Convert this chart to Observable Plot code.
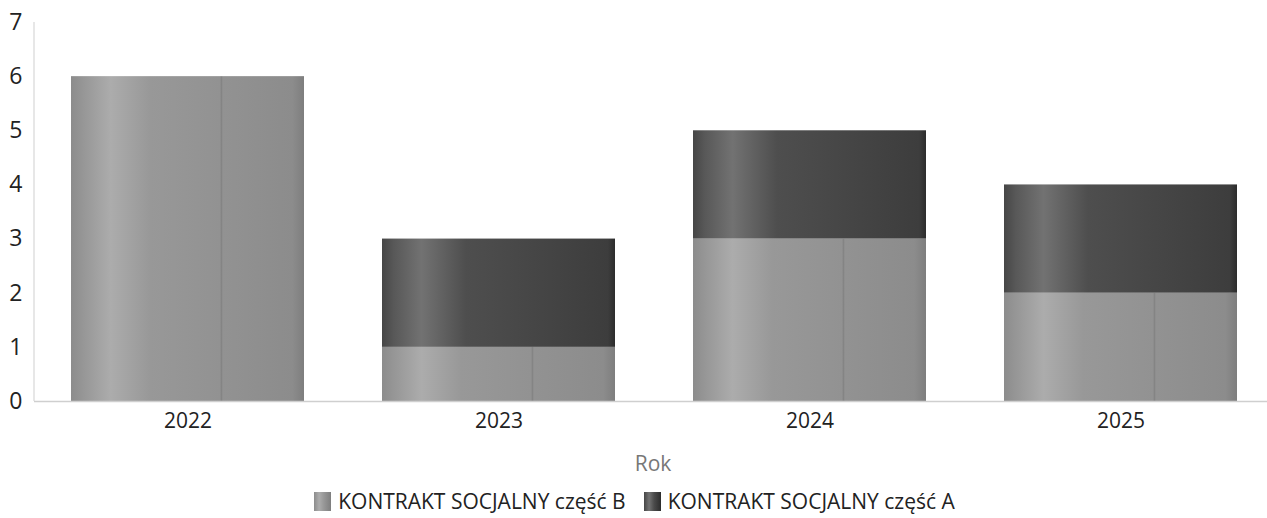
<!DOCTYPE html>
<html>
<head>
<meta charset="utf-8">
<script src="https://cdn.jsdelivr.net/npm/d3@7"></script>
<script src="https://cdn.jsdelivr.net/npm/@observablehq/plot@0.6"></script>
<style>
  body { margin: 0; background: #fff; font-family: "Open Sans", sans-serif; }
  #chart { width: 1267px; height: 480px; }
  .legend { display: flex; justify-content: center; align-items: center; gap: 18px; font-size: 21px; color: #222; margin-top: 7px; padding-left: 2px; }
  .legend .item { display: flex; align-items: center; gap: 7px; }
  .legend .sw { width: 17px; height: 19px; display: inline-block; }
</style>
</head>
<body>
<div id="chart"></div>
<script>
const years = ["2022", "2023", "2024", "2025"];
const seriesNames = ["KONTRAKT SOCJALNY część B", "KONTRAKT SOCJALNY część A"];
const partB = [6, 1, 3, 2];
const partA = [0, 2, 2, 2];
const yTicks = [0, 1, 2, 3, 4, 5, 6, 7];

const rows = [];
years.forEach((y, i) => rows.push({year: y, series: seriesNames[0], value: partB[i]}));
years.forEach((y, i) => rows.push({year: y, series: seriesNames[1], value: partA[i]}));

const gradDefs = `
<defs>
  <linearGradient id="gB" x1="0" x2="1" y1="0" y2="0">
    <stop offset="0" stop-color="#8c8c8c"/>
    <stop offset="0.05" stop-color="#969696"/>
    <stop offset="0.17" stop-color="#acacac"/>
    <stop offset="0.34" stop-color="#989898"/>
    <stop offset="0.64" stop-color="#929292"/>
    <stop offset="0.645" stop-color="#828282"/>
    <stop offset="0.652" stop-color="#929292"/>
    <stop offset="0.95" stop-color="#8c8c8c"/>
    <stop offset="1" stop-color="#7e7e7e"/>
  </linearGradient>
  <linearGradient id="gA" x1="0" x2="1" y1="0" y2="0">
    <stop offset="0" stop-color="#464646"/>
    <stop offset="0.05" stop-color="#585858"/>
    <stop offset="0.17" stop-color="#727272"/>
    <stop offset="0.36" stop-color="#4e4e4e"/>
    <stop offset="0.65" stop-color="#464646"/>
    <stop offset="0.97" stop-color="#3d3d3d"/>
    <stop offset="1" stop-color="#2c2c2c"/>
  </linearGradient>
</defs>`;

const chart = Plot.plot({
  width: 1267,
  height: 480,
  marginTop: 22,
  marginBottom: 79,
  marginLeft: 34,
  marginRight: 0,
  style: {fontFamily: "Open Sans, sans-serif", fontSize: "21px", color: "#222", background: "#fff"},
  x: {domain: years, range: [34, 1274], paddingInner: 0.25, paddingOuter: 0.116, label: null},
  y: {domain: [0, 7], label: null},
  color: {domain: seriesNames, range: ["url(#gB)", "url(#gA)"]},
  marks: [
    Plot.barY(rows, {x: "year", y: "value", fill: "series", order: null}),
    Plot.ruleY([0], {stroke: "#cfcfcf", strokeWidth: 1.5}),
    Plot.axisY({ticks: yTicks, tickSize: 0, tickPadding: 12, tickFormat: d => d, fontSize: 23, fill: "#222"}),
    Plot.axisX({tickSize: 0, tickPadding: 12, fontSize: 21, fill: "#222", label: null}),
    Plot.text(["Rok"], {frameAnchor: "bottom", dy: 69, dx: 2, fontSize: 21, fill: "#777", text: d => d})
  ]
});
chart.insertAdjacentHTML("afterbegin", gradDefs);
document.getElementById("chart").appendChild(chart);

// y axis line
const svg = d3.select(chart);
svg.append("line").attr("x1", 34).attr("x2", 34).attr("y1", 22).attr("y2", 401).attr("stroke", "#cfcfcf");

const legend = document.createElement("div");
legend.className = "legend";
const swStyles = [
  "linear-gradient(to right, #8c8c8c, #acacac 30%, #969696 60%, #7e7e7e)",
  "linear-gradient(to right, #464646, #727272 30%, #4a4a4a 60%, #2c2c2c)"
];
seriesNames.forEach((s, i) => {
  const it = document.createElement("div");
  it.className = "item";
  it.innerHTML = `<span class="sw" style="background:${swStyles[i]}"></span><span>${s}</span>`;
  legend.appendChild(it);
});
document.body.appendChild(legend);
</script>
</body>
</html>
